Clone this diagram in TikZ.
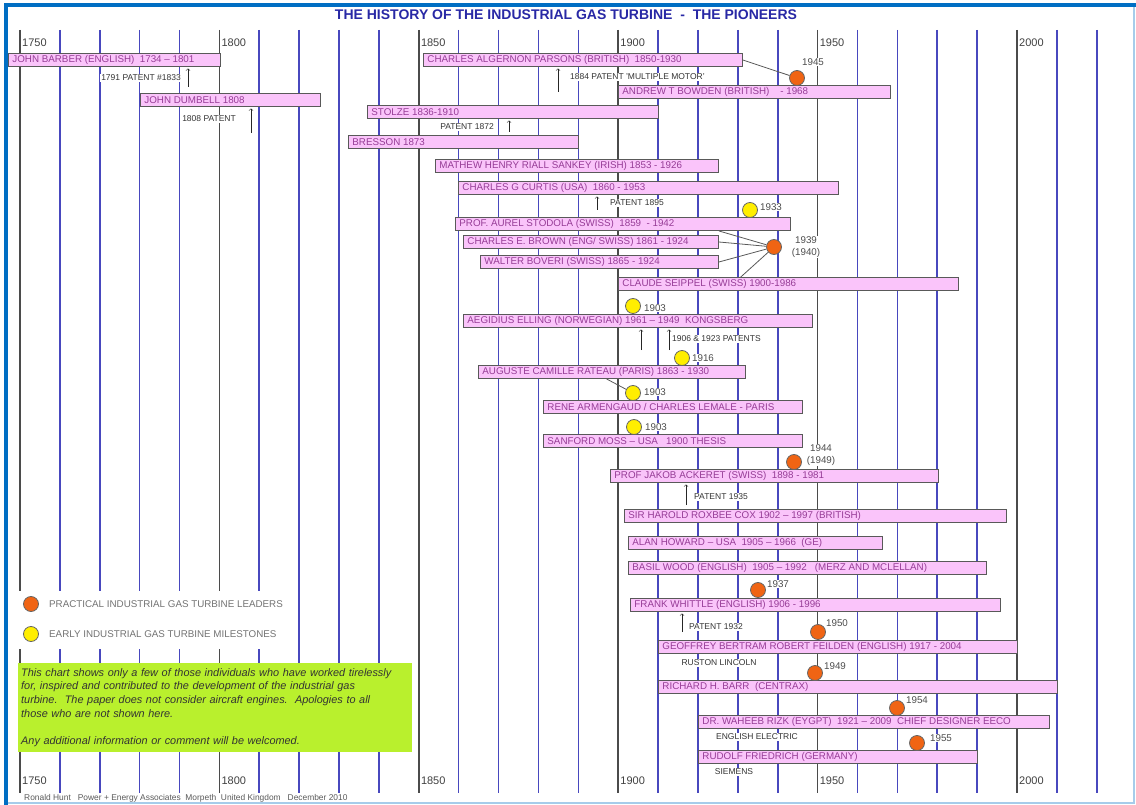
\documentclass[tikz,border=0pt]{standalone}
\usepackage{fontspec}
\setmainfont{Liberation Sans}
\usetikzlibrary{shapes,positioning,arrows,calc}
\definecolor{barfill}{RGB}{250,196,250}
\definecolor{bartext}{RGB}{150,60,150}
\definecolor{decblue}{RGB}{72,72,190}
\definecolor{halfgray}{RGB}{75,75,75}
\definecolor{leadorange}{RGB}{240,100,20}
\definecolor{mileyellow}{RGB}{255,238,0}
\definecolor{titleblue}{RGB}{40,40,165}
\definecolor{frameblue}{RGB}{0,110,195}
\definecolor{notegreen}{RGB}{185,240,45}

\begin{document}
\begin{tikzpicture}[x=1pt,y=-1pt,
    bar/.style ={
        draw=black!65,
        line width=0.9pt,
        fill=barfill,
        text=bartext,
        anchor=west,
        inner xsep=4pt,
        inner ysep=0pt,
        minimum height=13pt,
        font=\fontsize{9.8}{10}\selectfont
    },
    lead/.style ={
        circle,
        fill=leadorange,
        draw=black!60,
        line width=0.8pt,
        minimum size=15pt,
        inner sep=0pt
    },
    mile/.style ={
        circle,
        fill=mileyellow,
        draw=black!60,
        line width=0.8pt,
        minimum size=15pt,
        inner sep=0pt
    },
    yr/.style ={
        font=\fontsize{9.8}{11.5}\selectfont,
        text=black!70,
        fill=white,
        inner sep=1pt,
        align=center
    },
    note/.style ={
        font=\fontsize{8.5}{9}\selectfont,
        text=black!80,
        fill=white,
        inner sep=1pt
    },
    yearlbl/.style ={
        font=\fontsize{11}{12}\selectfont,
        text=black!75,
        inner sep=1pt,
        anchor=west
    },
    legendtxt/.style ={
        font=\fontsize{9.8}{11}\selectfont,
        text=black!55,
        anchor=west,
        inner sep=1pt
    },
    link/.style ={draw=black!65, line width=0.8pt},
    patent/.style ={->, black!85, line width=0.6pt, shorten >=1.5pt}
    ]
    \useasboundingbox (0,0) rectangle (1136,805);

    % frame
    \draw[frameblue!35, line width=1.5pt] (6,803) -- (1134,803) -- (1134,5);
    \draw[frameblue, line width=4pt] (6,805) -- (6,5) -- (1136,5);

    \node[font=\fontsize{14}{16}\selectfont\bfseries, text=titleblue] (title) at (566,15)
        {THE HISTORY OF THE INDUSTRIAL GAS TURBINE\ \ -\ \ THE PIONEERS};

    % decade lines
    \foreach \yr in {1760,1770,1780,1790,1810,1820,1830,1840,1860,1870,1880,1890,
                     1910,1920,1930,1940,1960,1970,1980,1990,2010,2020}
        \draw[decblue, line width=1.6pt] ({20+(\yr-1750)*3.988},30) -- ++(0,763);

    \foreach \yr in {1750,1800,1850,1900,1950,2000}{
        \draw[halfgray, line width=1.6pt] ({20+(\yr-1750)*3.988},30) -- ++(0,763);
        \node[yearlbl] (top\yr) at ({21+(\yr-1750)*3.988},43) {\yr};
        \node[yearlbl] (bot\yr) at ({21+(\yr-1750)*3.988},781) {\yr};
    }

    % legend
    \fill[white] (14,591) rectangle (292,649);
    \node[lead] (keylead) at (31,604) {};
    \node[mile] (keymile) at (31,634) {};
    \node[legendtxt] (keyleadtxt) at (48,604) {PRACTICAL INDUSTRIAL GAS TURBINE LEADERS};
    \node[legendtxt] (keymiletxt) at (48,634) {EARLY INDUSTRIAL GAS TURBINE MILESTONES};

    \node[fill=notegreen, anchor=north west, minimum width=394pt, minimum height=89pt,
          text width=388pt, inner xsep=3pt, align=left, text=black!80,
          font=\fontsize{10.9}{13.7}\selectfont\itshape] (chartnote) at (18,663)
        {This chart shows only a few of those individuals who have worked tirelessly\\
         for, inspired and contributed to the development of the industrial gas\\
         turbine.\ \ The paper does not consider aircraft engines.\ \ Apologies to all\\
         those who are not shown here.\\[13.7pt]
         Any additional information or comment will be welcomed.};

    \node[font=\fontsize{8.4}{9}\selectfont, text=black!65, anchor=west, inner sep=0pt] (credit) at (24,798)
        {Ronald Hunt\ \ \ Power + Energy Associates\ \ Morpeth\ \ United Kingdom\ \ \ December 2010};

    % pioneers
    \foreach \nm/\xa/\xb/\yy/\txt in {
        barber/8/220/60/{JOHN BARBER (ENGLISH)\ \ 1734 -- 1801},
        parsons/423/742/60/{CHARLES ALGERNON PARSONS (BRITISH)\ \ 1850-1930},
        bowden/618/890/92/{ANDREW T BOWDEN (BRITISH)\ \ \ \ - 1968},
        dumbell/140/320/100/{JOHN DUMBELL 1808},
        stolze/367/658/112/{STOLZE 1836-1910},
        bresson/348/578/142/{BRESSON 1873},
        sankey/435/718/166/{MATHEW HENRY RIALL SANKEY (IRISH) 1853 - 1926},
        curtis/458/838/188/{CHARLES G CURTIS (USA)\ \ 1860 - 1953},
        stodola/455/790/224/{PROF. AUREL STODOLA (SWISS)\ \ 1859\ \ - 1942},
        brown/463/718/242/{CHARLES E. BROWN (ENG/ SWISS) 1861 - 1924},
        boveri/480/718/262/{WALTER BOVERI (SWISS) 1865 - 1924},
        seippel/618/958/284/{CLAUDE SEIPPEL (SWISS) 1900-1986},
        elling/463/812/321/{AEGIDIUS ELLING (NORWEGIAN) 1961 -- 1949\ \ KONGSBERG},
        rateau/478/745/372/{AUGUSTE CAMILLE RATEAU (PARIS) 1863 - 1930},
        armengaud/543/802/407/{RENE ARMENGAUD / CHARLES LEMALE - PARIS},
        moss/543/802/441/{SANFORD MOSS -- USA\ \ \ 1900 THESIS},
        ackeret/610/938/476/{PROF JAKOB ACKERET (SWISS)\ \ 1898 - 1981},
        cox/624/1006/516/{SIR HAROLD ROXBEE COX 1902 -- 1997 (BRITISH)},
        howard/628/882/543/{ALAN HOWARD -- USA\ \ 1905 -- 1966\ \ (GE)},
        wood/628/986/568/{BASIL WOOD (ENGLISH)\ \ 1905 -- 1992\ \ \ (MERZ AND MCLELLAN)},
        whittle/630/1000/605/{FRANK WHITTLE (ENGLISH) 1906 - 1996},
        feilden/658/1017/647/{GEOFFREY BERTRAM ROBERT FEILDEN (ENGLISH) 1917 - 2004},
        barr/658/1057/687/{RICHARD H. BARR\ \ (CENTRAX)},
        rizk/698/1049/722/{DR. WAHEEB RIZK (EYGPT)\ \ 1921 -- 2009\ \ CHIEF DESIGNER EECO},
        friedrich/698/977/757/{RUDOLF FRIEDRICH (GERMANY)}}{
        \pgfmathsetmacro{\tw}{\xb-\xa-8}
        \node[bar] (\nm) at (\xa,\yy) {\makebox[\tw pt][l]{\txt}};
    }

    % patents
    \foreach \nm/\px/\py/\tgt in {pa1791/188/87/barber, pa1808/251/133/dumbell, pa1884/558/92/parsons,
                                  pa1872/509/132/stolze, pa1895/597/210/curtis, pa1906/641/350/elling,
                                  pa1923/669/350/elling, pa1935/686/505/ackeret, pa1932/682/632/whittle}{
        \node[coordinate] (\nm) at (\px,\py) {};
        \draw[patent] (\nm) -- (\tgt.south -| \nm);
    }

    \foreach \nm/\pos/\anc/\txt in {{nt1791/(182,78)/east/1791 PATENT \#1833}, {nt1808/(237,119)/east/1808 PATENT},
                                    {nt1884/(569,77)/west/1884 PATENT 'MULTIPLE MOTOR'}, {nt1872/(495,127)/east/PATENT 1872},
                                    {nt1895/(609,203)/west/PATENT 1895}, {nt1906/(671,339)/west/1906 \& 1923 PATENTS},
                                    {nt1935/(693,497)/west/PATENT 1935}, {nt1932/(688,627)/west/PATENT 1932},
                                    {ruston/(719,663)/center/RUSTON LINCOLN}, {eelec/(757,737)/center/ENGLISH ELECTRIC},
                                    {siemens/(734,772)/center/SIEMENS}}
        \node[note, anchor=\anc] (\nm) at \pos {\txt};

    % milestones and leaders
    \foreach \nm/\pos/\kind in {{ld45/(797,78)/lead}, {ld39/(774,247)/lead}, {ld44/(794,462)/lead}, {ld37/(758,590)/lead},
                                {ld50/(818,632)/lead}, {ld49/(815,673)/lead}, {ld54/(897,708)/lead}, {ld55/(917,743)/lead},
                                {ms33/(750,210)/mile}, {ms03a/(633,306)/mile}, {ms16/(682,358)/mile},
                                {ms03b/(633,393)/mile}, {ms03c/(634,427)/mile}}
        \node[\kind] (\nm) at \pos {};

    \foreach \nm/\pos/\txt in {{ly45/(813,62)/1945}, {ly39/(806,247)/{1939\\(1940)}}, {ly44/(821,455)/{1944\\(1949)}},
                               {ly37/(778,584)/1937}, {ly50/(837,623)/1950}, {ly49/(835,666)/1949},
                               {ly54/(917,700)/1954}, {ly55/(941,738)/1955}, {my33/(771,207)/1933},
                               {my03a/(655,308)/1903}, {my16/(703,358)/1916}, {my03b/(655,392)/1903},
                               {my03c/(656,427)/1903}}
        \node[yr] (\nm) at \pos {\txt};

    \draw[link] (parsons.east) -- (ld45);
    \draw[link] (brown.east |- stodola.south) -- (ld39);
    \draw[link] (brown.east) -- (ld39);
    \draw[link] (boveri.east) -- (ld39);
    \draw[link] ($(seippel.north west)!0.36!(seippel.north east)$) -- (ld39);
    \draw[link] ($(rateau.south west)!0.48!(rateau.south east)$) -- (ms03b);
\end{tikzpicture}
\end{document}
